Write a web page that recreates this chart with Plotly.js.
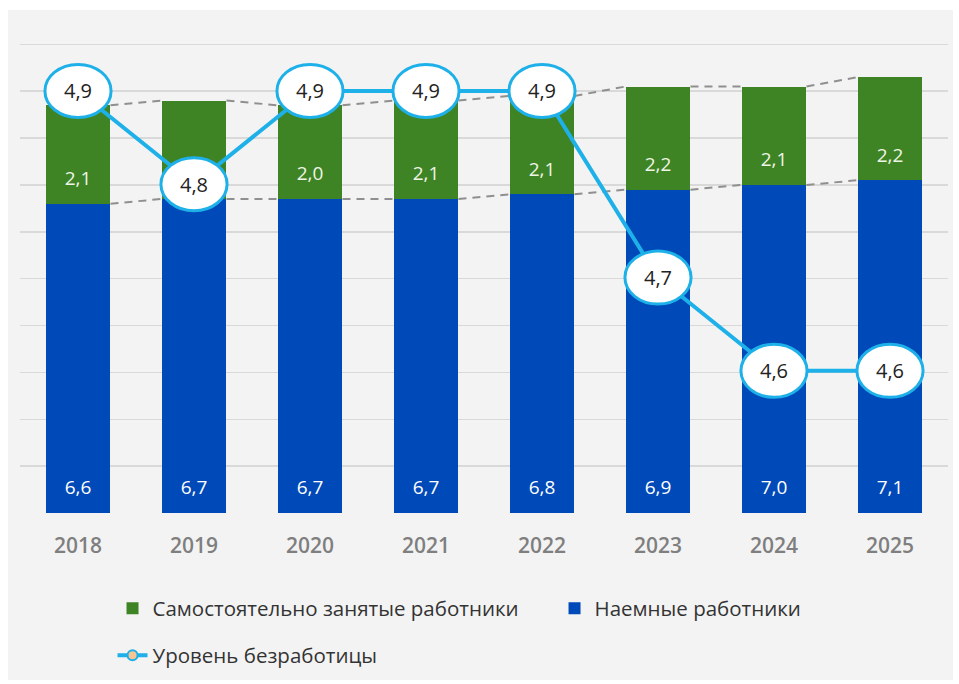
<!DOCTYPE html>
<html><head><meta charset="utf-8">
<script src="https://cdn.plot.ly/plotly-3.0.1.min.js"></script>
<style>
html,body{margin:0;padding:0;background:#fff;}
#chart{position:absolute;left:8px;top:10px;width:945px;height:670px;}
</style></head>
<body><div id="chart"></div>
<script>
const years = ['2018','2019','2020','2021','2022','2023','2024','2025'];
const hired = [6.6, 6.7, 6.7, 6.7, 6.8, 6.9, 7.0, 7.1];
const selfEmployed = [2.1, 2.1, 2.0, 2.1, 2.1, 2.2, 2.1, 2.2];
const unemployment = [4.9, 4.8, 4.9, 4.9, 4.9, 4.7, 4.6, 4.6];
// index of the self-employed label covered by the unemployment bubble in the reference
const coveredLabels = [1];

const fmt = v => v.toFixed(1).replace('.', ',');
const xs = years.map((_, i) => i);
const totals = hired.map((h, i) => h + selfEmployed[i]);
const half = 0.28;
const FONT = 'Open Sans, Lato, sans-serif';

function seriesLine(vals) {
  const x = [], y = [];
  for (let i = 0; i < vals.length - 1; i++) {
    x.push(i + half, i + 1 - half, null);
    y.push(vals[i], vals[i + 1], null);
  }
  return {x, y};
}
const topLine = seriesLine(totals);
const midLine = seriesLine(hired);

const traces = [
  {type:'bar', name:'Наемные работники', x: xs, y: hired, legend:'legend2',
   marker:{color:'#0049b9'}, width: 2*half, hoverinfo:'skip'},
  {type:'bar', name:'Самостоятельно занятые работники', x: xs, y: selfEmployed, legend:'legend',
   marker:{color:'#3f8424'}, width: 2*half, hoverinfo:'skip'},
  {type:'scatter', mode:'lines', x: topLine.x, y: topLine.y, showlegend:false,
   line:{color:'#8f8f8f', width:2, dash:'8px,6px'}, hoverinfo:'skip'},
  {type:'scatter', mode:'lines', x: midLine.x, y: midLine.y, showlegend:false,
   line:{color:'#8f8f8f', width:2, dash:'8px,6px'}, hoverinfo:'skip'},
  {type:'scatter', mode:'text', x: xs, y: hired.map(() => 0.5), text: hired.map(fmt),
   textfont:{family:FONT, size:19, color:'#ffffff'}, showlegend:false, hoverinfo:'skip'},
  {type:'scatter', mode:'text', x: xs, y: hired.map(h => h + 0.5),
   text: selfEmployed.map((v, i) => coveredLabels.includes(i) ? '' : fmt(v)),
   textfont:{family:FONT, size:19, color:'#eef5e6'}, showlegend:false, hoverinfo:'skip'},
  {type:'scatter', mode:'lines+markers', name:'Уровень безработицы', x: xs, y: unemployment,
   yaxis:'y2', legend:'legend3',
   line:{color:'#1eb0e8', width:4},
   marker:{size:10, color:'#f6c495', line:{color:'#1eb0e8', width:2}}, hoverinfo:'skip'}
];

const shapes = unemployment.map((v, i) => ({
  type:'circle', xref:'x', yref:'y2', layer:'above',
  x0: i - 0.285, x1: i + 0.285, y0: v - 0.0285, y1: v + 0.0285,
  fillcolor:'#ffffff', line:{color:'#1eb0e8', width:3}
}));
const annotations = unemployment.map((v, i) => ({
  x: i, y: v, xref:'x', yref:'y2', text: fmt(v), showarrow:false,
  font:{family:FONT, size:20, color:'#222222'}
}));

const legendFont = {family:FONT, size:20.5, color:'#333'};
const layout = {
  width:945, height:670,
  margin:{l:12, r:5, t:32, b:164},
  paper_bgcolor:'#f3f3f3', plot_bgcolor:'#f3f3f3',
  barmode:'stack',
  font:{family:FONT, color:'#333'},
  xaxis:{range:[-0.5, 7.5], tickvals: xs, ticktext: years, showgrid:false, zeroline:false,
         tickfont:{family:FONT, size:21, color:'#7f7f7f', weight:600}, ticks:'', ticklabelstandoff:18},
  yaxis:{range:[0, 10.05], dtick:1, showticklabels:false, gridcolor:'#d9d9d9', gridwidth:1.5, zeroline:false},
  yaxis2:{range:[4.4475, 4.9525], overlaying:'y', visible:false, showgrid:false},
  legend:{orientation:'h', x:0.0997, xanchor:'left', y:-0.16, yanchor:'top',
          font:legendFont, bgcolor:'rgba(0,0,0,0)'},
  legend2:{orientation:'h', x:0.576, xanchor:'left', y:-0.16, yanchor:'top',
          font:legendFont, bgcolor:'rgba(0,0,0,0)'},
  legend3:{orientation:'h', x:0.0997, xanchor:'left', y:-0.26, yanchor:'top',
           font:legendFont, bgcolor:'rgba(0,0,0,0)'},
  shapes, annotations, showlegend:true
};
Plotly.newPlot('chart', traces, layout, {displayModeBar:false, staticPlot:true});
</script></body></html>
